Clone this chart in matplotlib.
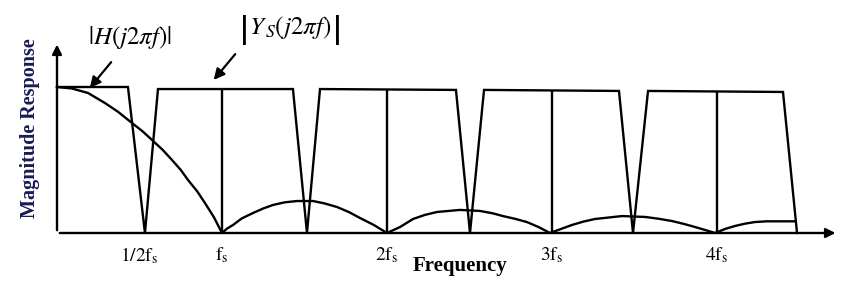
import numpy as np
import matplotlib
matplotlib.use('Agg')
import matplotlib.pyplot as plt

plt.rcParams['font.family'] = 'Liberation Serif'
plt.rcParams['mathtext.fontset'] = 'stix'

# |Ys(j2pi f)| : sampled spectrum (frequency in units of fs, magnitude normalised)
ys_f = [0, 0.430, 0.533, 0.612, 1.430, 1.515, 1.594, 2.418, 2.503, 2.588,
        3.406, 3.491, 3.582, 4.400, 4.485]
ys_m = [1.0, 1.0, 0.0, 0.986, 0.986, 0.0, 0.986, 0.98, 0.0, 0.98,
        0.973, 0.0, 0.973, 0.966, 0.0]

# lines at multiples of fs
center_f = [1, 2, 3, 4]
center_top = [0.986, 0.98, 0.973, 0.966]

# |H(j2pi f)|
h_f = [0, 0.09, 0.188, 0.291, 0.37, 0.455, 0.52, 0.576, 0.64, 0.697, 0.75, 0.794, 0.85, 0.897, 0.95, 1.0,
       1.03, 1.067, 1.12, 1.188, 1.25, 1.309, 1.38, 1.455, 1.552, 1.62, 1.697, 1.77, 1.836, 1.92, 2.0,
       2.079, 2.158, 2.23, 2.303, 2.442, 2.564, 2.64, 2.703, 2.78, 2.848, 2.92, 2.988,
       3.036, 3.121, 3.19, 3.261, 3.424, 3.564, 3.65, 3.727, 3.80, 3.867, 3.93, 3.988,
       4.05, 4.109, 4.17, 4.230, 4.30, 4.473]
h_m = [1.0, 0.99, 0.959, 0.890, 0.83, 0.753, 0.695, 0.637, 0.57, 0.500, 0.432, 0.363, 0.285, 0.205, 0.11, 0.0,
       0.03, 0.055, 0.10, 0.137, 0.168, 0.192, 0.210, 0.219, 0.219, 0.203, 0.178, 0.143, 0.103, 0.055, 0.0,
       0.041, 0.096, 0.124, 0.144, 0.158, 0.151, 0.135, 0.116, 0.096, 0.075, 0.040, 0.0,
       0.020, 0.055, 0.078, 0.096, 0.116, 0.110, 0.097, 0.082, 0.062, 0.041, 0.020, 0.0,
       0.028, 0.048, 0.064, 0.075, 0.080, 0.080]

tick_pos = [0.5, 1, 2, 3, 4]
tick_lab = [r'$\mathrm{1/2f_s}$', r'$\mathrm{f_s}$', r'$\mathrm{2f_s}$',
            r'$\mathrm{3f_s}$', r'$\mathrm{4f_s}$']

fig = plt.figure(figsize=(8.5, 2.85), dpi=100)
ax = fig.add_axes([0, 0, 1, 1])
ax.set_xlim(-57/165, (850-57)/165)
ax.set_ylim(-52/146, 233/146)
ax.axis('off')

lw = 1.7
ax.plot(ys_f, ys_m, color='black', lw=lw, solid_joinstyle='miter')
ax.vlines(center_f, 0, center_top, color='black', lw=lw)
ax.plot(h_f, h_m, color='black', lw=lw)

# axes with arrow heads
ax.annotate('', xy=(0, 1.31), xytext=(0, 0),
            arrowprops=dict(arrowstyle='-|>', color='black', lw=lw, mutation_scale=14))
ax.annotate('', xy=(4.735, 0), xytext=(0, 0),
            arrowprops=dict(arrowstyle='-|>', color='black', lw=lw, mutation_scale=14))

for p, lab in zip(tick_pos, tick_lab):
    ax.text(p, -0.085, lab, ha='center', va='top', fontsize=14)

ax.text(2.44, -0.226, 'Frequency', ha='center', va='center',
        fontsize=15, fontweight='bold')
ax.text(-0.164, 0.72, 'Magnitude Response', ha='center', va='center',
        rotation=90, fontsize=14.5, fontweight='bold', color='#1b1b55')

# labels with pointer arrows
ax.annotate('', xy=(0.188, 0.979), xytext=(0.339, 1.185),
            arrowprops=dict(arrowstyle='-|>', color='black', lw=1.6, mutation_scale=16))
ax.annotate('', xy=(0.939, 1.034), xytext=(1.091, 1.240),
            arrowprops=dict(arrowstyle='-|>', color='black', lw=1.6, mutation_scale=16))
ax.text(0.442, 1.342, r'$|H(j2\pi f)|$', ha='center', va='center', fontsize=18)
ax.text(1.412, 1.41, r'$Y_{\,S}(j2\pi f)$', ha='center', va='center', fontsize=18)
ax.text(1.127, 1.36, r'$|$', ha='center', va='center', fontsize=32)
ax.text(1.691, 1.36, r'$|$', ha='center', va='center', fontsize=32)

fig.savefig('out.png', dpi=100)
